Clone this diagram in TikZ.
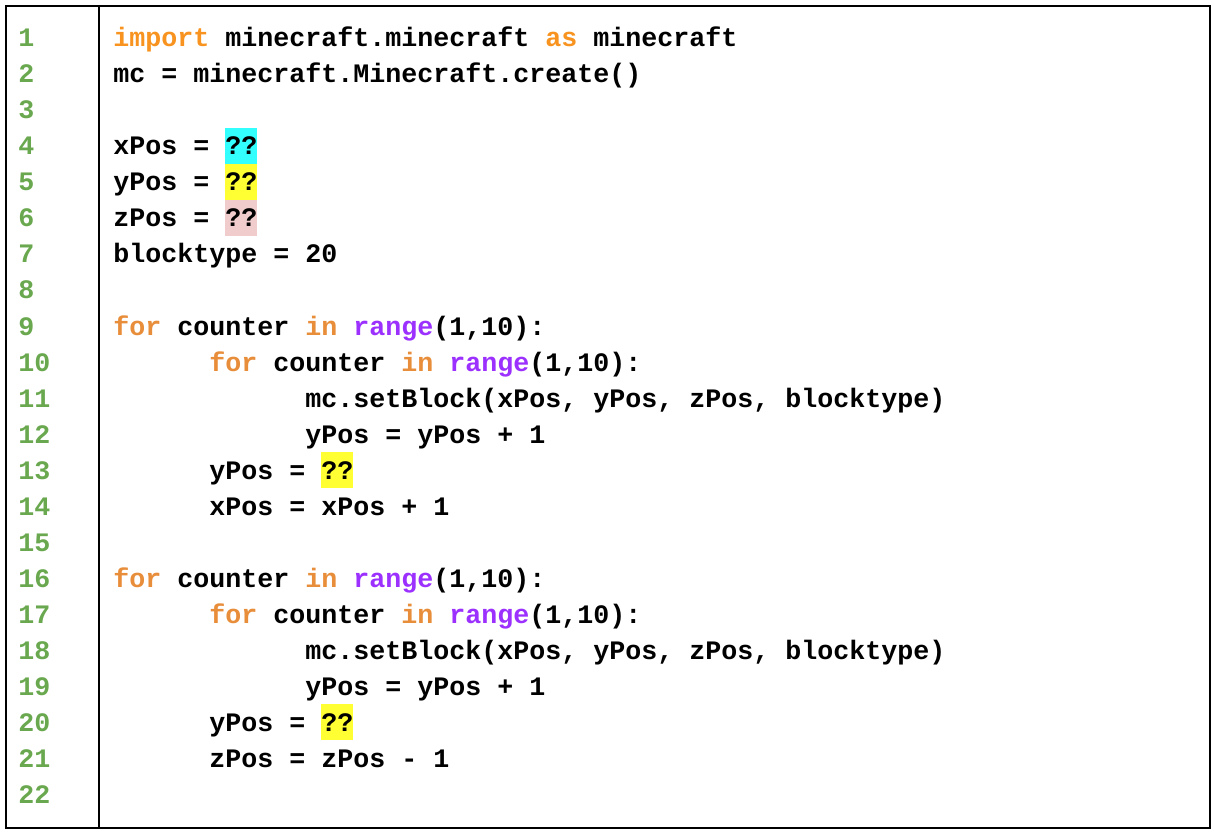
\documentclass[tikz,border=0pt]{standalone}
\usepackage{fontspec}
\setmonofont{Liberation Mono}
\definecolor{kwA}{RGB}{247,147,30}
\definecolor{kwB}{RGB}{232,141,58}
\definecolor{fnc}{RGB}{155,48,255}
\definecolor{lnum}{RGB}{106,168,79}
\definecolor{hcyan}{RGB}{51,255,255}
\definecolor{hyel}{RGB}{255,255,51}
\definecolor{hpink}{RGB}{240,204,204}
\newcommand\indA{\hspace*{72pt}}
\newcommand\indB{\hspace*{144pt}}
\newcommand\cstrut{\rule[-6.75pt]{0pt}{27pt}}
\newcommand\hlq[1]{{\setlength{\fboxsep}{0pt}\colorbox{#1}{\cstrut ??}}}
\newcommand\ka[1]{\textcolor{kwA}{#1}}
\newcommand\kb[1]{\textcolor{kwB}{#1}}
\newcommand\fn[1]{\textcolor{fnc}{#1}}
\begin{document}
\begin{tikzpicture}[x=0.75pt,y=-0.75pt,
  codeline/.style={anchor=base west,inner sep=0pt,font=\fontsize{20pt}{27pt}\ttfamily\bfseries,text=black},
  numline/.style={codeline,text=lnum},
  frame/.style={draw=black,line width=1.5pt}]
\useasboundingbox (0,0) rectangle (1214,834);
\node[frame,anchor=north west,minimum width=1204*0.75pt,minimum height=822*0.75pt,inner sep=0pt] (box) at (5,5) {};
\coordinate (sepT) at (99,5);
\coordinate (sepB) at (99,827);
\draw[line width=1.5pt] (sepT) -- (sepB);
\foreach \n in {1,...,22} {
  \node[numline] (n\n) at (18,{47+36*(\n-1)}) {\n};
}
\node[codeline] (l1) at (113,47) {\ka{import} minecraft.minecraft \ka{as} minecraft};
\node[codeline] (l2) at (113,83) {mc = minecraft.Minecraft.create()};
\node[codeline] (l4) at (113,155) {xPos = \hlq{hcyan}};
\node[codeline] (l5) at (113,191) {yPos = \hlq{hyel}};
\node[codeline] (l6) at (113,227) {zPos = \hlq{hpink}};
\node[codeline] (l7) at (113,263) {blocktype = 20};
\node[codeline] (l9) at (113,335) {\kb{for} counter \kb{in} \fn{range}(1,10):};
\node[codeline] (l10) at (113,371) {\indA\kb{for} counter \kb{in} \fn{range}(1,10):};
\node[codeline] (l11) at (113,407) {\indB mc.setBlock(xPos, yPos, zPos, blocktype)};
\node[codeline] (l12) at (113,443) {\indB yPos = yPos + 1};
\node[codeline] (l13) at (113,479) {\indA yPos = \hlq{hyel}};
\node[codeline] (l14) at (113,515) {\indA xPos = xPos + 1};
\node[codeline] (l16) at (113,587) {\kb{for} counter \kb{in} \fn{range}(1,10):};
\node[codeline] (l17) at (113,623) {\indA\kb{for} counter \kb{in} \fn{range}(1,10):};
\node[codeline] (l18) at (113,659) {\indB mc.setBlock(xPos, yPos, zPos, blocktype)};
\node[codeline] (l19) at (113,695) {\indB yPos = yPos + 1};
\node[codeline] (l20) at (113,731) {\indA yPos = \hlq{hyel}};
\node[codeline] (l21) at (113,767) {\indA zPos = zPos - 1};
\end{tikzpicture}
\end{document}
